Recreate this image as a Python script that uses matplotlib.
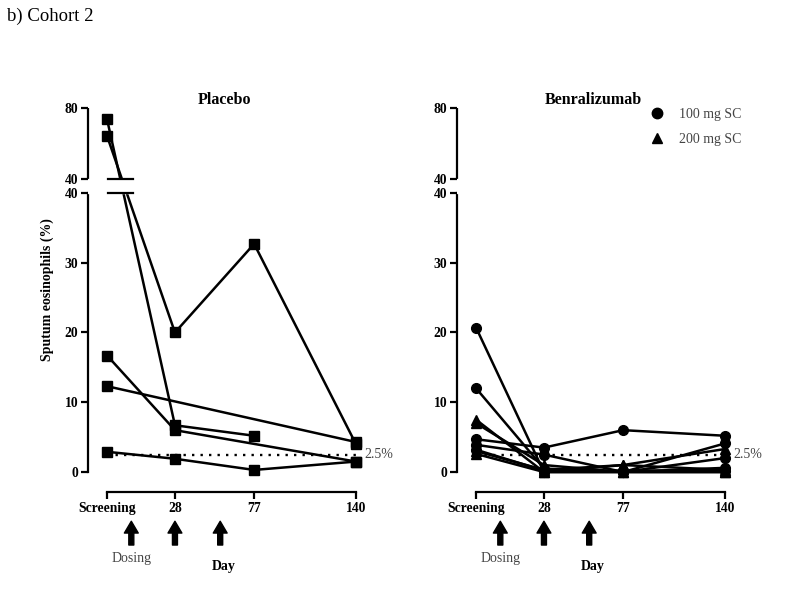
import numpy as np
import matplotlib
matplotlib.use("Agg")
import matplotlib.pyplot as plt
from matplotlib.lines import Line2D

plt.rcParams['font.family'] = 'serif'
plt.rcParams['font.serif'] = ['Liberation Serif', 'DejaVu Serif']

# --- data ---
days = [-14, 28, 77, 140]          # "Screening" plotted at day -14
day_labels = ['Screening', '28', '77', '140']
dosing_days = [1, 28, 56]
threshold = 2.5
nan = np.nan

placebo = [
    [73.6, 6.7, 5.2, nan],
    [64.2, 20.0, 32.7, 4.0],
    [16.7, 6.0, nan, 1.5],
    [12.3, nan, nan, 4.3],
    [2.9, 1.9, 0.3, 1.5],
]

benra_100 = [
    [20.7, 0.0, 0.0, 4.1],
    [12.0, 0.5, 0.0, 2.0],
    [4.7, 3.5, 6.0, 5.2],
    [3.9, 2.5, 0.0, 0.6],
    [3.2, 0.2, 0.2, 0.2],
]

benra_200 = [
    [7.5, 0.0, 1.0, 3.3],
    [7.0, 1.0, 0.0, 0.0],
    [2.6, 0.0, 0.0, 0.0],
    [3.0, 0.3, 1.0, 0.3],
]

# --- broken y axis: 0-40 (lower) | gap | 40-80 (upper, compressed) ---
G = 0.001      # data width of the break
GAP = 2.0      # size of the gap in lower-axis units
R = 0.2545     # upper segment scale relative to lower


def fwd(v):
    v = np.asarray(v, float)
    return np.where(v <= 40, v,
                    np.where(v <= 40 + G, 40 + (v - 40) * GAP / G,
                             40 + GAP + (v - 40 - G) * R))


def inv(t):
    t = np.asarray(t, float)
    return np.where(t <= 40, t,
                    np.where(t <= 40 + GAP, 40 + (t - 40) * G / GAP,
                             40 + G + (t - 40 - GAP) / R))


def draw_series(ax, rows, marker, ms):
    x = np.array(days, float)
    for row in rows:
        y = np.array(row, float)
        m = ~np.isnan(y)
        ax.plot(x[m], y[m], color='black', lw=1.8, marker=marker, ms=ms,
                mfc='black', mec='black', clip_on=False, zorder=2)


def style_panel(ax, title, break_marks):
    ax.set_yscale('function', functions=(fwd, inv))
    ax.set_xlim(-25.8, 142.5)
    ax.set_ylim(-2.82, 80)
    for s in ['top', 'right']:
        ax.spines[s].set_visible(False)
    ax.spines['left'].set_bounds(0, 40)
    ax.spines['bottom'].set_bounds(days[0], days[-1])
    ax.spines['left'].set_linewidth(1.6)
    ax.spines['bottom'].set_linewidth(1.6)
    # upper segment of the y axis
    ax.plot([0, 0], [40 + G, 80], transform=ax.get_yaxis_transform(),
            color='black', lw=1.6, clip_on=False, solid_capstyle='butt')
    ax.axhspan(40, 40 + G, color='white', zorder=3)
    if break_marks:
        ax.plot([-13.5, 2], [40, 40], color='black', lw=1.6, zorder=4)
        ax.plot([-13.5, 2], [40 + G, 40 + G], color='black', lw=1.6, zorder=4)

    ax.set_yticks([0, 10, 20, 30, 40, 40 + G, 80])
    ax.set_yticklabels(['0', '10', '20', '30', '40', '40', '80'],
                       fontweight='bold')
    ax.set_xticks(days)
    ax.set_xticklabels(day_labels, fontweight='bold')
    ax.tick_params(axis='both', direction='out', length=5, width=1.6,
                   labelsize=9.8, pad=2)
    ax.tick_params(axis='x', pad=2.5)
    ax.set_title(title, fontweight='bold', fontsize=11.5, pad=2)

    # 2.5% reference line
    ax.plot([days[0], days[-1]], [threshold, threshold], color='black',
            lw=1.7, ls=(0, (1, 2.6)), zorder=1)
    ax.annotate('2.5%', xy=(days[-1], threshold), xytext=(6, 0),
                textcoords='offset points', va='center', ha='left',
                fontsize=10, color='#444444', annotation_clip=False)

    # dosing arrows
    for d in dosing_days:
        ax.annotate('', xy=(d, -0.077), xytext=(d, -0.139),
                    xycoords=('data', 'axes fraction'),
                    arrowprops=dict(arrowstyle='simple,head_width=1.0,head_length=0.85,tail_width=0.36',
                                    color='black', shrinkA=0, shrinkB=0,
                                    mutation_scale=10),
                    annotation_clip=False)
    ax.annotate('Dosing', xy=(dosing_days[0], -0.173),
                xycoords=('data', 'axes fraction'), ha='center', va='center',
                fontsize=10, color='#444444', annotation_clip=False)
    ax.set_xlabel('Day', fontweight='bold', fontsize=10)
    ax.xaxis.set_label_coords(0.5, -0.179)


fig = plt.figure(figsize=(8, 6.12), dpi=100)
bottom = (612 - 491.7) / 612
height = (491.7 - 108) / 612
ax1 = fig.add_axes([88 / 800, bottom, 272 / 800, height])
ax2 = fig.add_axes([457 / 800, bottom, 272 / 800, height])

draw_series(ax1, placebo, 's', 6.8)
style_panel(ax1, 'Placebo', True)

draw_series(ax2, benra_100, 'o', 7.0)
draw_series(ax2, benra_200, '^', 7.2)
style_panel(ax2, 'Benralizumab', False)

handles = [Line2D([], [], color='black', marker='o', ls='none', ms=7.5),
           Line2D([], [], color='black', marker='^', ls='none', ms=7.5)]
leg = ax2.legend(handles, ['100 mg SC', '200 mg SC'], loc='upper left',
                 bbox_to_anchor=(651 / 800, 1 - 108 / 612),
                 bbox_transform=fig.transFigure, frameon=False,
                 prop={'size': 10}, handlelength=0.9, handletextpad=1.1,
                 labelspacing=0.85, borderpad=0, borderaxespad=0)
for t in leg.get_texts():
    t.set_color('#444444')

fig.text(47 / 800, 1 - 290 / 612, 'Sputum eosinophils (%)', rotation=90,
         ha='center', va='center', fontweight='bold', fontsize=10)
fig.text(7 / 800, 1 - 16 / 612, 'b) Cohort 2', ha='left', va='center',
         fontsize=13.5)

fig.savefig('out.png', dpi=100)
